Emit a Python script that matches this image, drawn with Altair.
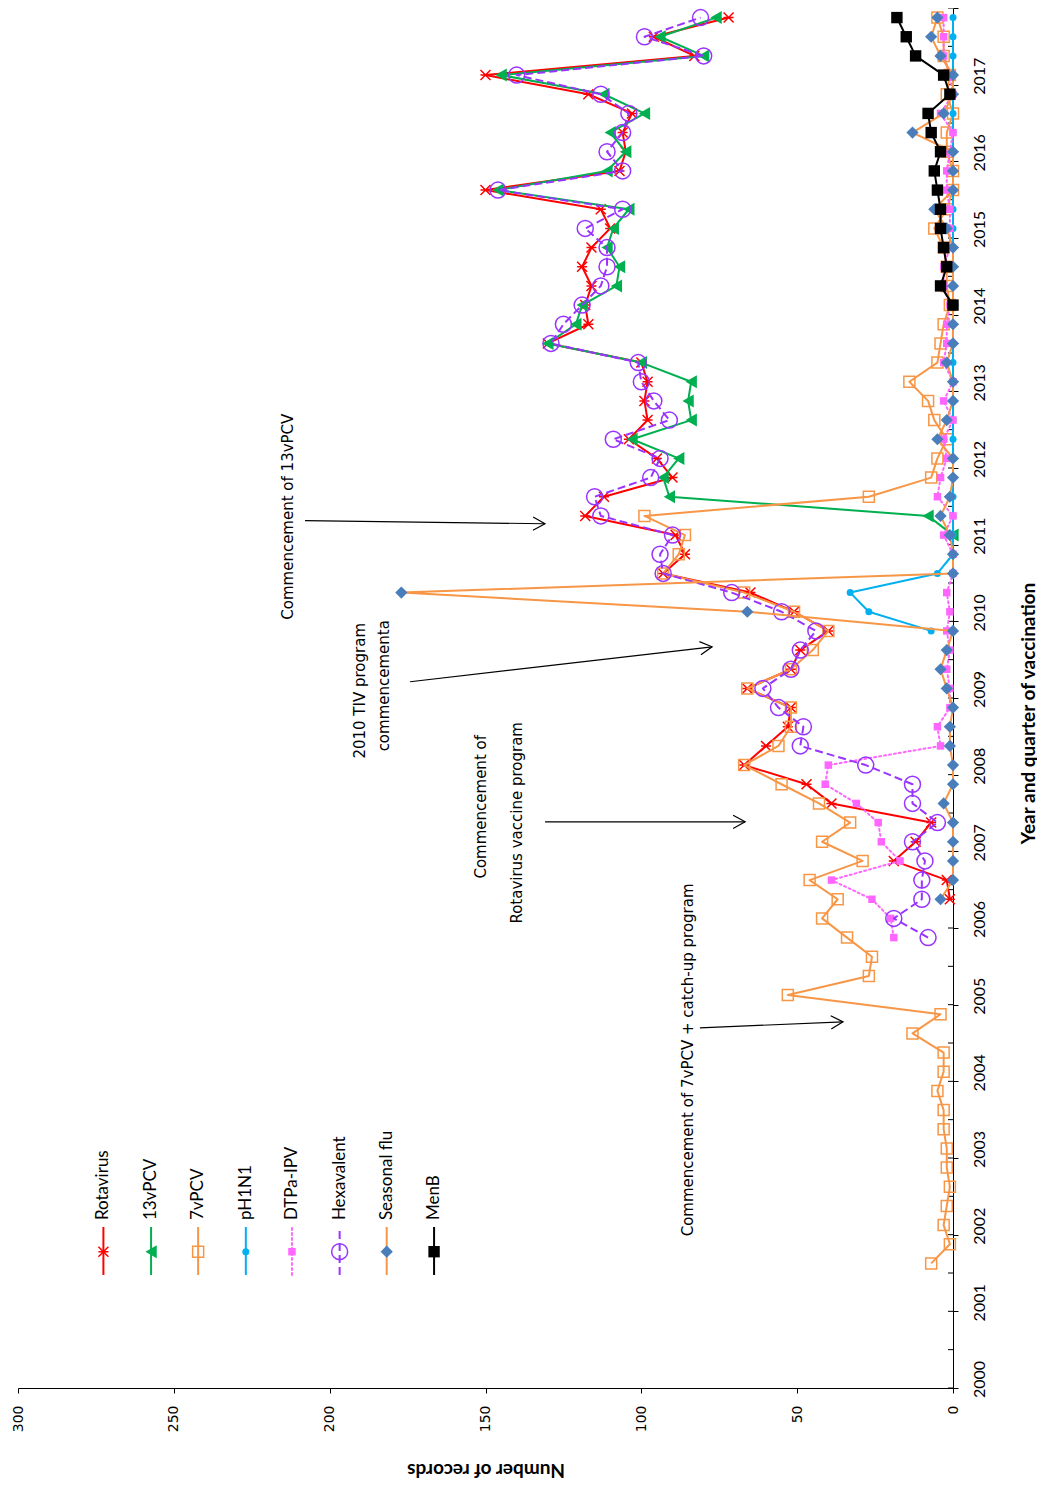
import altair as alt
import pandas as pd

# ---------------- categories ----------------
YEARS = list(range(2000, 2018))
QUARTER_LABELS = [f"{y} Q{q}" for y in YEARS for q in (1, 2, 3, 4)]

# ---------------- series values (number of records per quarter) ----------------
rotavirus_start = "2006 Q2"
rotavirus = [1, 2, 19, 12, 7, 39, 47, 67, 60, 53, 52, 66, 52, 49, 40, 51, 65, 93, 86, 89,
             118, 112, 90, 95, 104, 98, 99, 98, 100, 130, 117, 118, 116, 119, 116, 110, 113,
             150, 107, 105, 106, 103, 117, 150, 83, 96, 72]

pcv13_start = "2011 Q1"
pcv13 = [0, 8, 91, 93, 88, 103, 84, 85, 84, 100, 130, 121, 119, 108, 107, 111, 109, 104,
         146, 111, 105, 110, 99, 112, 145, 80, 94, 76]

pcv7_start = "2001 Q3"
pcv7 = [7, 1, 3, 2, 1, 2,
        2, 3, 3, 5, 3, 3, 13, 4, 53, 27, 26, 34, 42, 37, 46, 29,
        42, 33, 43, 55, 67, 56, 52, 52, 66, 52, 45, 40, 51, 67, 93, 88,
        86, 99, 27, 7, 5, 2, 6, 8, 14, 5, 4, 3, 1, 2, 2, 3,
        6, 2, 0, 0, 2, 2, 0, 2, 1, 3, 3, 5]

ph1n1_start = "2009 Q4"
ph1n1 = [7, 27, 33, 5, 0, 0, 0, 0, 0, 0, 0, 0, 0, 0, 0, 0, 0, 0, 0, 0, 0, 0, 0, 0,
         0, 0, 0, 0, 0, 0, 0, 0, 0]

dtpa_start = "2005 Q4"
dtpa = [19, 20, 26, 39, 17, 23, 24, 31, 41, 40, 4, 5, 1, 1, 2, 1, 2, 1, 2, 0, 0,
        3, 0, 5, 4, 2, 3, 0, 3, 0, 3, 2, 2, 1, 3, 3, 1, 1, 1, 2, 2, 1, 0, 4, 0,
        1, 3, 3, 3]

hexa_start = "2005 Q4"
hexa = [8, 19, 10, 10, 9, 13, 5, 13, 13, 28, 49, 48, 56, 61, 52, 49, 44, 55, 71, 93, 94,
        90, 113, 115, 97, 94, 109, 91, 96, 100, 101, 129, 125, 119, 113, 111, 111,
        118, 106, 146, 106, 111, 106, 104, 113, 140, 80, 99, 81]

flu_start = "2006 Q2"
flu = [4, 0, 0, 0, 0, 3, 0, 0, 1, 1, 0, 2, 4, 2, 0, 66, 177, 0, 0, 1, 4, 1, 0,
       0, 5, 2, 0, 0, 2, 0, 0, 0, 0, 0, 0, 2, 6, 0, 0, 0, 13, 3, 0, 0, 4, 7, 5]

menb_start = "2014 Q1"
menb = [0, 4, 2, 3, 4, 4, 5, 6, 4, 7, 8, 1, 3, 12, 15, 18]

# ---------------- annotations ----------------
note_texts = ["Commencement of 13vPCV", "2010 TIV program", "commencementa",
              "Commencement of", "Rotavirus vaccine program",
              "Commencement of 7vPCV + catch-up program"]
note_v = [213.3, 190.2, 182.5, 151.4, 139.9, 85.0]          # records axis
note_t = [2011.365, 2009.094, 2009.160, 2007.581, 2007.372, 2004.280]  # time axis

arrow_v_from = [207.9, 174.2, 130.9, 81.2]
arrow_t_from = [2011.313, 2009.212, 2007.385, 2004.697]
arrow_v_to = [130.9, 77.3, 66.7, 35.3]
arrow_t_to = [2011.273, 2009.668, 2007.385, 2004.776]
arrow_angle = [0.7, 353.4, 0.0, 357.6]

# legend placement (in chart units)
legend_v = [272.6, 257.3, 242.2, 226.9, 212.1, 196.8, 181.7, 166.5]
legend_t_line = (2001.474, 2002.10)
legend_t_marker = 2001.778
legend_t_text = 2002.19

ASTERISK = "M-1,-1L1,1M-1,1L1,-1M-1,0L1,0"
ARROW = "M-1,-0.55L0,0L-1,0.55"

series = [
    ("Rotavirus", rotavirus_start, rotavirus, "#FF0000", None,
     dict(shape=ASTERISK, filled=False, size=100, color="#FF0000", strokeWidth=1.5)),
    ("13vPCV", pcv13_start, pcv13, "#00B050", None,
     dict(shape="triangle-left", filled=True, size=170, color="#00B050")),
    ("7vPCV", pcv7_start, pcv7, "#F79646", None,
     dict(shape="square", filled=False, size=121, color="#F79646", strokeWidth=1.5)),
    ("pH1N1", ph1n1_start, ph1n1, "#00B0F0", None,
     dict(shape="circle", filled=True, size=49, color="#00B0F0")),
    ("DTPa-IPV", dtpa_start, dtpa, "#FF66FF", [2, 3],
     dict(shape="square", filled=True, size=56, color="#FF66FF")),
    ("Hexavalent", hexa_start, hexa, "#9933FF", [8, 4],
     dict(shape="circle", filled=False, size=256, color="#9933FF", strokeWidth=1.5)),
    ("Seasonal flu", flu_start, flu, "#F79646", None,
     dict(shape="diamond", filled=True, size=150, color="#4A7EBB")),
    ("MenB", menb_start, menb, "#000000", None,
     dict(shape="square", filled=True, size=130, color="#000000")),
]


def series_frame(start, values):
    i0 = QUARTER_LABELS.index(start)
    rows = []
    for k, v in enumerate(values):
        lab = QUARTER_LABELS[i0 + k]
        y, q = lab.split(" Q")
        rows.append({"quarter": lab, "t": int(y) + (int(q) - 0.5) / 4, "v": v})
    return pd.DataFrame(rows)


X_SCALE = alt.Scale(domain=[0, 300], reverse=True, nice=False, zero=True)
Y_SCALE = alt.Scale(domain=[2000, 2018], nice=False, zero=False)

x_axis = alt.Axis(
    values=[0, 50, 100, 150, 200, 250, 300], title="Number of records",
    titleAngle=180, titleFont="Lato", titleFontWeight="bold", titleFontSize=19,
    titleColor="#000000", titleY=81, titleBaseline="middle", titleAlign="center",
    labelAngle=270, labelAlign="right", labelBaseline="middle", labelFont="DejaVu Sans",
    labelFontSize=14, labelColor="#000000", labelPadding=12, tickSize=5,
    tickColor="#000000", domainColor="#000000", grid=False, labelFlush=False,
    labelOverlap=False,
)
y_axis = alt.Axis(
    orient="right", values=list(range(2000, 2019)), format="d",
    labelExpr="datum.value >= 2018 ? '' : datum.label",
    labelAngle=270, labelAlign="center", labelBaseline="middle", labelPadding=21,
    labelOffset=-9, labelFont="Lato", labelFontSize=16, labelColor="#000000",
    tickSize=5, tickColor="#000000", domainColor="#000000",
    title="Year and quarter of vaccination", titleAngle=270, titleX=75, titleY=705,
    titleAlign="center", titleBaseline="middle", titleFont="Lato", titleFontSize=19,
    titleFontWeight="bold", titleColor="#000000", grid=False, labelFlush=False,
    labelOverlap=False,
)


def X(field="v"):
    return alt.X(f"{field}:Q", scale=X_SCALE, axis=x_axis)


def Y(field="t"):
    return alt.Y(f"{field}:Q", scale=Y_SCALE, axis=y_axis)


layers = []

# inner tick marks on the time axis (years cross, half years inside)
tick_t = [y / 2 for y in range(4000, 4037)]
layers.append(
    alt.Chart(pd.DataFrame({"t": tick_t})).mark_rule(color="#000000", strokeWidth=1)
    .encode(x=alt.value(930), x2=alt.value(935), y=Y())
)

# data series
for name, start, values, lcolor, dash, mk in series:
    df = series_frame(start, values)
    line_kw = dict(color=lcolor, strokeWidth=2, strokeJoin="round")
    if dash:
        line_kw["strokeDash"] = dash
        if dash[0] <= 2:
            line_kw["strokeCap"] = "round"
    layers.append(alt.Chart(df).mark_line(**line_kw).encode(x=X(), y=Y(), order="t:Q"))
    layers.append(alt.Chart(df).mark_point(opacity=1, **mk).encode(x=X(), y=Y()))

# legend
for k, (name, start, values, lcolor, dash, mk) in enumerate(series):
    ldf = pd.DataFrame({"v": [legend_v[k]], "t": [legend_t_line[0]], "t2": [legend_t_line[1]]})
    rule_kw = dict(color=lcolor, strokeWidth=2)
    if dash:
        rule_kw["strokeDash"] = dash
        if dash[0] <= 2:
            rule_kw["strokeCap"] = "round"
    layers.append(alt.Chart(ldf).mark_rule(**rule_kw).encode(x=X(), y=Y(), y2="t2:Q"))
    mdf = pd.DataFrame({"v": [legend_v[k]], "t": [legend_t_marker]})
    layers.append(alt.Chart(mdf).mark_point(opacity=1, **mk).encode(x=X(), y=Y()))
    tdf = pd.DataFrame({"v": [legend_v[k]], "t": [legend_t_text], "label": [name]})
    layers.append(
        alt.Chart(tdf).mark_text(angle=270, align="left", baseline="middle", font="Lato",
                                 fontSize=17, color="#000000")
        .encode(x=X(), y=Y(), text="label:N")
    )

# annotation texts
ndf = pd.DataFrame({"v": note_v, "t": note_t, "label": note_texts})
layers.append(
    alt.Chart(ndf).mark_text(angle=270, align="center", baseline="middle",
                             font="DejaVu Sans", fontSize=15, color="#000000")
    .encode(x=X(), y=Y(), text="label:N")
)

# arrows
adf = pd.DataFrame({"v": arrow_v_from, "t": arrow_t_from, "v2": arrow_v_to,
                    "t2": arrow_t_to, "a": arrow_angle})
layers.append(
    alt.Chart(adf).mark_rule(color="#000000", strokeWidth=1.2)
    .encode(x=X(), y=Y(), x2="v2:Q", y2="t2:Q")
)
hdf = pd.DataFrame({"v": arrow_v_to, "t": arrow_t_to, "a": arrow_angle})
layers.append(
    alt.Chart(hdf).mark_point(shape=ARROW, filled=False, size=576, color="#000000",
                              strokeWidth=1.2, opacity=1)
    .encode(x=X(), y=Y(), angle=alt.Angle("a:Q", scale=None))
)

chart = (
    alt.layer(*layers)
    .properties(width=935, height=1380,
                padding={"left": 10, "top": 0, "right": 84, "bottom": 95},
                autosize=alt.AutoSizeParams(type="none"),
                background="#FFFFFF")
    .configure_view(stroke=None)
)

chart.save("out.html", embed_options={"renderer": "svg", "actions": False})
